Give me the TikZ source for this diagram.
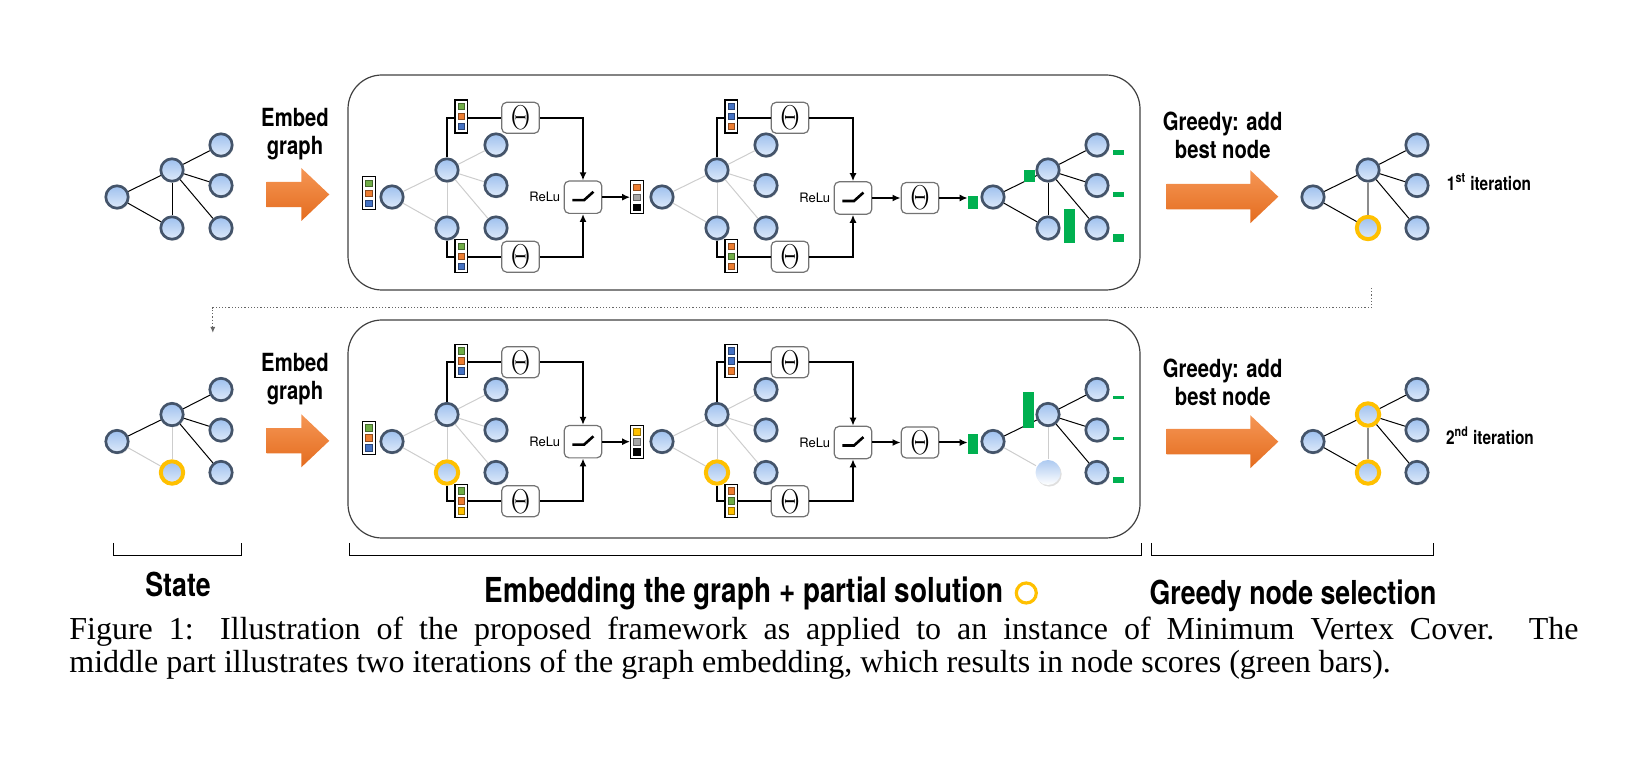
\documentclass[tikz,border=0pt]{standalone}
\usepackage[no-math]{fontspec}
\setmainfont{Liberation Serif}
\newfontfamily\condfont[FakeStretch=0.81]{TeX Gyre Heros}
\newfontfamily\plainsans{TeX Gyre Heros}
\usetikzlibrary{positioning,arrows.meta,shadows}

\definecolor{nodeline}{RGB}{68,84,106}
\definecolor{nodetop}{RGB}{158,192,238}
\definecolor{nodebot}{RGB}{222,234,250}
\definecolor{solyellow}{RGB}{255,192,0}
\definecolor{arrtop}{RGB}{245,150,85}
\definecolor{arrbot}{RGB}{228,108,30}
\definecolor{scoregreen}{RGB}{0,176,80}
\definecolor{vgreen}{RGB}{112,173,71}
\definecolor{vorange}{RGB}{237,125,49}
\definecolor{vblue}{RGB}{68,114,196}
\definecolor{vgray}{RGB}{165,165,165}
\definecolor{vyellow}{RGB}{255,192,0}
\definecolor{lightedge}{RGB}{205,205,205}

\tikzstyle{gnode} = [circle, draw=nodeline, line width=1.35pt, top color=nodetop, bottom color=nodebot,
                 minimum size=11.2pt, inner sep=0pt,
                 drop shadow={opacity=0.25, shadow xshift=0.6pt, shadow yshift=-0.8pt}]
\tikzstyle{snode} = [gnode, draw=solyellow, line width=2pt]
\tikzstyle{fnode} = [gnode, draw=none, minimum size=12.5pt, top color=nodetop!85!white, bottom color=white]
\tikzstyle{dkedge} = [black, line width=0.5pt]
\tikzstyle{mdedge} = [black!45, line width=0.9pt]
\tikzstyle{ltedge} = [lightedge, line width=0.5pt]
\tikzstyle{wire} = [black, line width=1pt]
\tikzstyle{tip} = [-{Latex[length=4pt,width=3.5pt]}]
\tikzstyle{opbox} = [rectangle, draw=black!55, line width=0.6pt, rounded corners=2.5pt, fill=white,
                 minimum width=18.8pt, minimum height=15.5pt, inner sep=0pt]
\tikzstyle{theta} = [opbox, font=\fontsize{16}{16}\selectfont]
\tikzstyle{relu} = [opbox, minimum height=16.2pt,
                 path picture={\draw[black, sharp corners, line width=1.3pt]
                   ([shift={(-5.3pt,-1.5pt)}]path picture bounding box.center)
                   -- ++(5.8pt,0pt) -- ++(4.7pt,4.2pt);},
                 label={[font=\plainsans\fontsize{6.5}{7}\selectfont, inner sep=1.5pt]left:ReLu}]
\tikzstyle{panel} = [draw=black!75, line width=0.6pt, rounded corners=17pt]
\tikzstyle{lbl} = [font=\condfont\bfseries\fontsize{12.5}{14}\selectfont, align=center, inner sep=0pt]
\tikzstyle{iter} = [font=\condfont\bfseries\fontsize{9.5}{11}\selectfont, inner sep=0pt]
\tikzstyle{biglbl} = [font=\condfont\bfseries\fontsize{16.5}{19}\selectfont, inner sep=0pt]
\tikzstyle{solring} = [circle, draw=solyellow, line width=1.6pt, minimum size=10pt, inner sep=0pt]
\tikzstyle{captxt} = [anchor=base west, inner sep=0pt, font=\fontsize{16}{18}\selectfont]
\tikzset{fvec/.style n args={3}{rectangle, draw=black, line width=0.6pt, fill=white,
                 minimum width=6.3pt, minimum height=16.5pt, inner sep=0pt,
                 path picture={\foreach \col/\d in {#1/5pt,#2/0pt,#3/-5pt}
                   \draw[fill=\col, draw=\col!60!black, line width=0.3pt]
                     ([shift={(-1.65pt,\d-1.65pt)}]path picture bounding box.center) rectangle ++(3.3pt,3.3pt);}}}

\newcommand\thetaw{\scalebox{0.76}[1]{$\Theta$}}
\newcommand\fatarrow[3]{% tail x, tip x, centre y
  \shade[top color=arrtop, bottom color=arrbot]
    (#1,#3-12.7) -- (#2-28,#3-12.7) -- (#2-28,#3-26.5) -- (#2,#3)
    -- (#2-28,#3+26.5) -- (#2-28,#3+12.7) -- (#1,#3+12.7) -- cycle;}

\begin{document}
\begin{tikzpicture}[x=0.5pt, y=-0.5pt]
\useasboundingbox (0,0) rectangle (1644,758);

% frames round the embedding part
\draw[panel] (348,75) rectangle (1140,290);
\draw[panel] (348,320) rectangle (1140,538);

% small graphs
\foreach \g/\x/\y/\ts/\bs/\lb/\tb/\re in {
    sa/117/197/gnode/gnode/dkedge/dkedge/dkedge,
    e1a/392/197/gnode/gnode/ltedge/ltedge/ltedge,
    e2a/662/197/gnode/gnode/ltedge/ltedge/ltedge,
    fa/993/197/gnode/gnode/dkedge/dkedge/dkedge,
    ga/1313/197/gnode/snode/dkedge/mdedge/dkedge,
    sb/117/441.5/gnode/snode/ltedge/ltedge/dkedge,
    e1b/392/441.5/gnode/snode/ltedge/ltedge/ltedge,
    e2b/662/441.5/gnode/snode/ltedge/ltedge/ltedge,
    fb/993/441.5/gnode/fnode/ltedge/ltedge/dkedge,
    gb/1313/441.5/snode/snode/dkedge/mdedge/dkedge}
{
  \node[gnode] (\g-l) at (\x,\y) {};
  \node[\ts] (\g-t) at (\x+55,\y-27) {};
  \node[\bs] (\g-b) at (\x+55,\y+31) {};
  \foreach \k/\dd in {1/-52, 2/-11.5, 3/31}
    \node[gnode] (\g-r\k) at (\x+104,\y+\dd) {};
  \draw[\lb] (\g-l) -- (\g-b);
  \draw[\tb] (\g-t) -- (\g-b);
  \draw[\re] (\g-l) -- (\g-t);
  \foreach \k in {1,2,3}
    \draw[\re] (\g-t) -- (\g-r\k);
}

% two embedding layers per row
\foreach \r/\dy/\ca/\cb/\cc in {a/0/vblue/vorange/vorange, b/244.5/vyellow/vyellow/vyellow}
{
  \node[theta] (tu1\r) at (520.5,117.8+\dy) {\thetaw};
  \node[theta] (td1\r) at (520.5,256.7+\dy) {\thetaw};
  \node[relu] (rl1\r) at (583,197.2+\dy) {};
  \node[fvec={\cb}{vgray}{black}] (vo1\r) at (637,197.2+\dy) {};
  \node[theta] (tu2\r) at (790,117.8+\dy) {\thetaw};
  \node[theta] (td2\r) at (790,256.7+\dy) {\thetaw};
  \node[relu] (rl2\r) at (853,198+\dy) {};
  \node[theta] (tt\r) at (920,198+\dy) {\thetaw};
  \coordinate (sc\r) at (967.7,198+\dy);

  \draw[wire] (e1\r-t) |- (tu1\r);
  \draw[wire] (e1\r-b) |- (td1\r);
  \draw[wire,tip] (tu1\r) -| (rl1\r);
  \draw[wire,tip] (td1\r) -| (rl1\r);
  \draw[wire,tip] (rl1\r) -- (vo1\r);
  \draw[wire] (e2\r-t) |- (tu2\r);
  \draw[wire] (e2\r-b) |- (td2\r);
  \draw[wire,tip] (tu2\r) -| (rl2\r);
  \draw[wire,tip] (td2\r) -| (rl2\r);
  \draw[wire,tip] (rl2\r) -- (tt\r);
  \draw[wire,tip] (tt\r) -- (sc\r);

  \node[fvec={vgreen}{vorange}{vblue}] (vl\r) at (369,193.3+\dy) {};
  \node[fvec={vgreen}{vorange}{vblue}] (vu1\r) at (461.3,116.5+\dy) {};
  \node[fvec={vgreen}{vorange}{\ca}] (vd1\r) at (461.3,256.3+\dy) {};
  \node[fvec={vblue}{vblue}{vorange}] (vu2\r) at (731.3,116.5+\dy) {};
  \node[fvec={vorange}{vgreen}{\cc}] (vd2\r) at (731.3,256.3+\dy) {};
}

% node scores
\foreach \xa/\ya/\xb/\yb in {967.7/196/977.7/208.7, 1024/170/1035/181.7, 1064/209/1075/243.3,
    1113.3/150/1124/155.3, 1113.3/192/1124/196.7, 1113.3/234/1124/241.7,
    967.7/434.3/977.7/454.3, 1023.3/392.3/1034/427.7,
    1113.3/395.7/1124/399.3, 1113.3/437/1124/440, 1113.3/476.7/1124/483.3}
  \fill[scoregreen] (\xa,\ya) rectangle (\xb,\yb);

% big arrows
\fatarrow{266.7}{329.3}{194.5}
\fatarrow{266.7}{329.3}{440.8}
\fatarrow{1166.7}{1278.3}{196.7}
\fatarrow{1166.7}{1278.3}{441.7}

\node[lbl] (emb-a) at (295,134) {Embed\\graph};
\node[lbl] (emb-b) at (295,379) {Embed\\graph};
\node[lbl] (grd-a) at (1222.7,135.7) {Greedy: add\\best node};
\node[lbl] (grd-b) at (1222.7,382.4) {Greedy: add\\best node};
\node[iter] (it-a) at (1489,182) {1\textsuperscript{st} iteration};
\node[iter] (it-b) at (1490,436) {2\textsuperscript{nd} iteration};

% back to the state
\coordinate (fb-start) at (1371.5,288);
\coordinate (fb-end) at (212.8,333);
\draw[densely dotted, black!60, line width=0.6pt, -{Latex[length=3pt,width=2.5pt]}]
    (fb-start) -- ++(0,19.7) -| (fb-end);

% brackets
\draw[line width=0.5pt] (113,543) -- (113,556) -- (241,556) -- (241,543);
\draw[line width=0.5pt] (349,543) -- (349,556) -- (1141,556) -- (1141,543);
\draw[line width=0.5pt] (1151,543) -- (1151,556) -- (1433,556) -- (1433,543);
\node[biglbl] (state) at (178,584) {State};
\node[biglbl, font=\condfont\bfseries\fontsize{17.2}{19}\selectfont] (embtxt) at (744,593) {Embedding the graph + partial solution};
\node[solring, right=5.5pt of embtxt] (ring) {};
\node[biglbl] (greedy) at (1293,596) {Greedy node selection};

% caption
\node[captxt] (cap1) at (69,639.5) {\makebox[754.5pt][s]{Figure 1: Illustration of the proposed framework as applied to an instance of Minimum Vertex Cover. The}};
\node[captxt] (cap2) at (69,673) {middle part illustrates two iterations of the graph embedding, which results in node scores (green bars).};
\end{tikzpicture}
\end{document}
